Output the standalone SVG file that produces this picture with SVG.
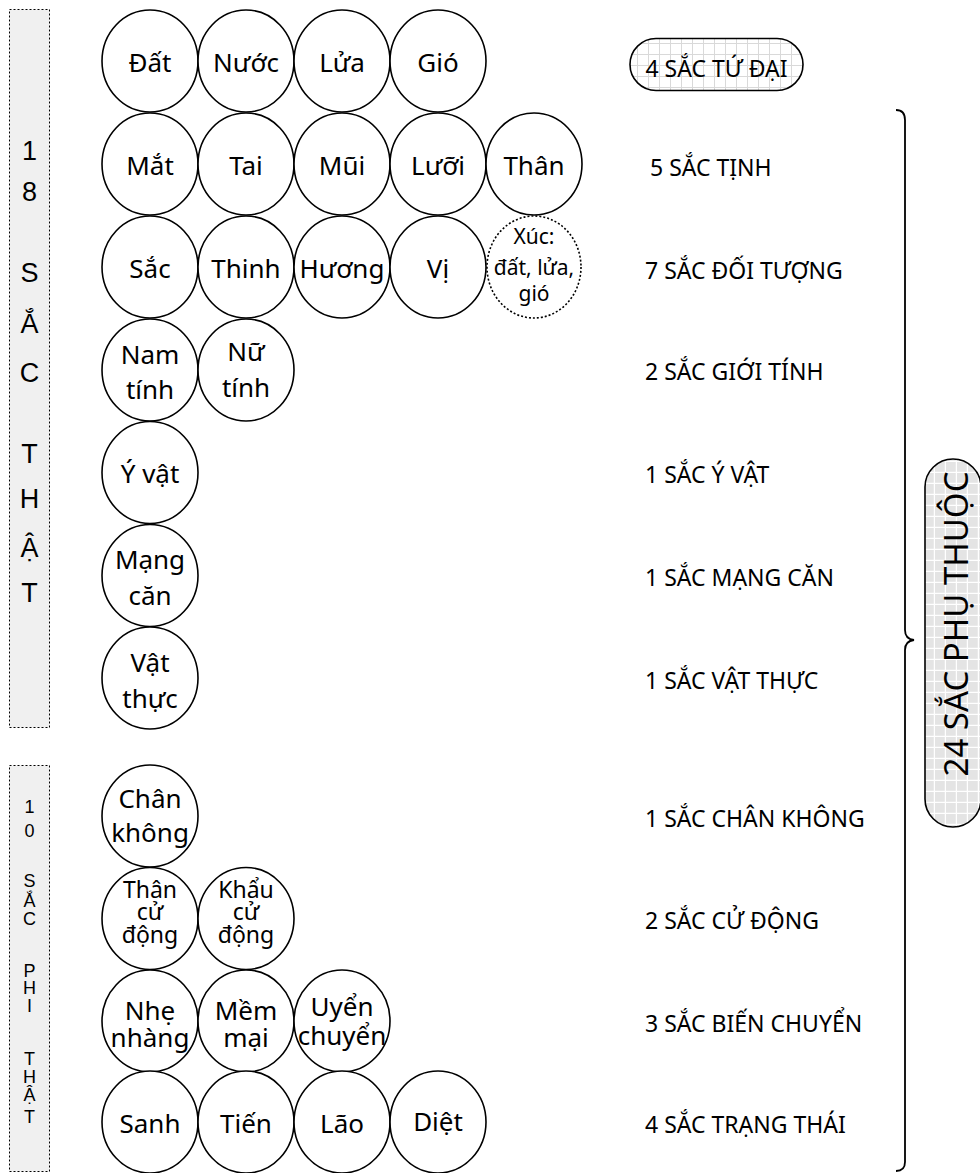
<svg xmlns="http://www.w3.org/2000/svg" width="980" height="1173" viewBox="0 0 980 1173">
<defs>
<pattern id="g1" width="11" height="11" patternUnits="userSpaceOnUse"><rect width="11" height="11" fill="#fff"/><path d="M10.5 0V11M0 10.5H11" stroke="#d9d9d9" stroke-width="1"/></pattern>
<pattern id="g2" width="11" height="11" patternUnits="userSpaceOnUse"><rect width="11" height="11" fill="#e4e4e4"/><path d="M10.5 0V11M0 10.5H11" stroke="#fff" stroke-width="1.5"/></pattern>
</defs>
<style>
.n ellipse{fill:#fff;stroke:#000;stroke-width:1.6}
.n ellipse.d{stroke-dasharray:2 2}
.t{font-family:"Noto Sans","DejaVu Sans",sans-serif;font-size:26px;text-anchor:middle;fill:#000}
.s{font-size:21px}
.m{font-size:23px}
.r{font-family:"Noto Sans","DejaVu Sans",sans-serif;font-size:23px;fill:#000}
.box{fill:#f0f0f0;stroke:#000;stroke-width:1;stroke-dasharray:2 2}
.v{font-family:"Liberation Sans",Arial,sans-serif;font-size:27px;text-anchor:middle;fill:#000}
.v2{font-family:"Liberation Sans",Arial,sans-serif;font-size:18px;text-anchor:middle;fill:#000}
.br{fill:none;stroke:#000;stroke-width:1.8}
.pill{stroke:#000;stroke-width:1.6}
</style>
<rect width="980" height="1173" fill="#fff"/>

<g id="box-18">
<rect class="box" x="9.5" y="9.5" width="40" height="718"/>
<text class="v" x="29.5" y="160">1</text>
<text class="v" x="29.5" y="201">8</text>
<text class="v" x="29.5" y="282">S</text>
<text class="v" x="29.5" y="333">Ắ</text>
<text class="v" x="29.5" y="382">C</text>
<text class="v" x="29.5" y="463">T</text>
<text class="v" x="29.5" y="508">H</text>
<text class="v" x="29.5" y="557">Ậ</text>
<text class="v" x="29.5" y="602">T</text>
</g>
<g id="box-10">
<rect class="box" x="9.5" y="765.5" width="40" height="406"/>
<text class="v2" x="29.5" y="813">1</text>
<text class="v2" x="29.5" y="837">0</text>
<text class="v2" x="29.5" y="887">S</text>
<text class="v2" x="29.5" y="907">Ắ</text>
<text class="v2" x="29.5" y="925">C</text>
<text class="v2" x="29.5" y="977">P</text>
<text class="v2" x="29.5" y="994">H</text>
<text class="v2" x="29.5" y="1012">I</text>
<text class="v2" x="29.5" y="1065">T</text>
<text class="v2" x="29.5" y="1083">H</text>
<text class="v2" x="29.5" y="1101">Ậ</text>
<text class="v2" x="29.5" y="1123">T</text>
</g>

<g id="row-tu-dai">
<g class="n" id="n-dat"><ellipse cx="150" cy="61" rx="48" ry="51"/><text class="t" x="150" y="72">Đất</text></g>
<g class="n" id="n-nuoc"><ellipse cx="246" cy="61" rx="48" ry="51"/><text class="t" x="246" y="72">Nước</text></g>
<g class="n" id="n-lua"><ellipse cx="342" cy="61" rx="48" ry="51"/><text class="t" x="342" y="72">Lửa</text></g>
<g class="n" id="n-gio"><ellipse cx="438" cy="61" rx="48" ry="51"/><text class="t" x="438" y="72">Gió</text></g>
</g>
<g id="row-tinh">
<g class="n" id="n-mat"><ellipse cx="150" cy="164" rx="48" ry="51"/><text class="t" x="150" y="175">Mắt</text></g>
<g class="n" id="n-tai"><ellipse cx="246" cy="164" rx="48" ry="51"/><text class="t" x="246" y="175">Tai</text></g>
<g class="n" id="n-mui"><ellipse cx="342" cy="164" rx="48" ry="51"/><text class="t" x="342" y="175">Mũi</text></g>
<g class="n" id="n-luoi"><ellipse cx="438" cy="164" rx="48" ry="51"/><text class="t" x="438" y="175">Lưỡi</text></g>
<g class="n" id="n-than"><ellipse cx="534" cy="164" rx="48" ry="51"/><text class="t" x="534" y="175">Thân</text></g>
</g>
<g id="row-doi-tuong">
<g class="n" id="n-sac"><ellipse cx="150" cy="267" rx="48" ry="51"/><text class="t" x="150" y="278">Sắc</text></g>
<g class="n" id="n-thinh"><ellipse cx="246" cy="267" rx="48" ry="51"/><text class="t" x="246" y="278">Thinh</text></g>
<g class="n" id="n-huong"><ellipse cx="342" cy="267" rx="48" ry="51"/><text class="t" x="342" y="278">Hương</text></g>
<g class="n" id="n-vi"><ellipse cx="438" cy="267" rx="48" ry="51"/><text class="t" x="438" y="278">Vị</text></g>
<g class="n" id="n-xuc"><ellipse class="d" cx="534" cy="267" rx="47" ry="51"/><text class="t s" x="534" y="244">Xúc:</text><text class="t s" x="534" y="275">đất, lửa,</text><text class="t s" x="534" y="301">gió</text></g>
</g>
<g id="row-gioi-tinh">
<g class="n" id="n-nam"><ellipse cx="150" cy="370" rx="48" ry="51"/><text class="t" x="150" y="364">Nam</text><text class="t" x="150" y="399">tính</text></g>
<g class="n" id="n-nu"><ellipse cx="246" cy="370" rx="48" ry="51"/><text class="t" x="246" y="361">Nữ</text><text class="t" x="246" y="397">tính</text></g>
</g>
<g class="n" id="n-y-vat"><ellipse cx="150" cy="472.5" rx="48" ry="51"/><text class="t" x="150" y="483">Ý vật</text></g>
<g class="n" id="n-mang-can"><ellipse cx="150" cy="575.5" rx="48" ry="51"/><text class="t" x="150" y="569">Mạng</text><text class="t" x="150" y="605">căn</text></g>
<g class="n" id="n-vat-thuc"><ellipse cx="150" cy="678" rx="48" ry="51"/><text class="t" x="150" y="672">Vật</text><text class="t" x="150" y="708">thực</text></g>

<g class="n" id="n-chan-khong"><ellipse cx="150" cy="816" rx="48" ry="51"/><text class="t" x="150" y="808">Chân</text><text class="t" x="150" y="842">không</text></g>
<g id="row-cu-dong">
<g class="n" id="n-than-cd"><ellipse cx="150" cy="918.5" rx="48" ry="51"/><text class="t m" x="150" y="898">Thân</text><text class="t m" x="150" y="920">cử</text><text class="t m" x="150" y="943">động</text></g>
<g class="n" id="n-khau-cd"><ellipse cx="246" cy="918.5" rx="48" ry="51"/><text class="t m" x="246" y="898">Khẩu</text><text class="t m" x="246" y="920">cử</text><text class="t m" x="246" y="943">động</text></g>
</g>
<g id="row-bien-chuyen">
<g class="n" id="n-nhe"><ellipse cx="150" cy="1021" rx="48" ry="51"/><text class="t" x="150" y="1020">Nhẹ</text><text class="t" x="150" y="1047">nhàng</text></g>
<g class="n" id="n-mem"><ellipse cx="246" cy="1021" rx="48" ry="51"/><text class="t" x="246" y="1020">Mềm</text><text class="t" x="246" y="1047">mại</text></g>
<g class="n" id="n-uyen"><ellipse cx="342" cy="1021" rx="48" ry="51"/><text class="t" x="342" y="1016">Uyển</text><text class="t" x="342" y="1045">chuyển</text></g>
</g>
<g id="row-trang-thai">
<g class="n" id="n-sanh"><ellipse cx="150" cy="1122" rx="48" ry="51"/><text class="t" x="150" y="1133">Sanh</text></g>
<g class="n" id="n-tien"><ellipse cx="246" cy="1122" rx="48" ry="51"/><text class="t" x="246" y="1133">Tiến</text></g>
<g class="n" id="n-lao"><ellipse cx="342" cy="1122" rx="48" ry="51"/><text class="t" x="342" y="1133">Lão</text></g>
<g class="n" id="n-diet"><ellipse cx="438" cy="1122" rx="48" ry="51"/><text class="t" x="438" y="1131">Diệt</text></g>
</g>

<g id="pill-tu-dai">
<rect class="pill" x="630" y="38.5" width="173" height="52" rx="26" fill="url(#g1)"/>
<text class="r" x="716.5" y="77" text-anchor="middle">4 SẮC TỨ ĐẠI</text>
</g>

<g id="labels">
<text class="r" x="650" y="176">5 SẮC TỊNH</text>
<text class="r" x="645" y="279">7 SẮC ĐỐI TƯỢNG</text>
<text class="r" x="645" y="380">2 SẮC GIỚI TÍNH</text>
<text class="r" x="645" y="483">1 SẮC Ý VẬT</text>
<text class="r" x="645" y="586">1 SẮC MẠNG CĂN</text>
<text class="r" x="645" y="689">1 SẮC VẬT THỰC</text>
<text class="r" x="645" y="827">1 SẮC CHÂN KHÔNG</text>
<text class="r" x="645" y="929">2 SẮC CỬ ĐỘNG</text>
<text class="r" x="645" y="1032">3 SẮC BIẾN CHUYỂN</text>
<text class="r" x="645" y="1133">4 SẮC TRẠNG THÁI</text>
</g>

<g id="connectors">
<path class="br" d="M896 110 Q905 110 905 120 L905 630 Q905 639 914 640 Q905 641 905 650 L905 1162 Q905 1171 896 1171"/>
</g>

<g id="pill-phu-thuoc">
<rect class="pill" x="925" y="459" width="56" height="368" rx="28" fill="url(#g2)"/>
<text class="r" transform="translate(968,624) rotate(-90)" text-anchor="middle" style="font-size:33px">24 SẮC PHỤ THUỘC</text>
</g>
</svg>
